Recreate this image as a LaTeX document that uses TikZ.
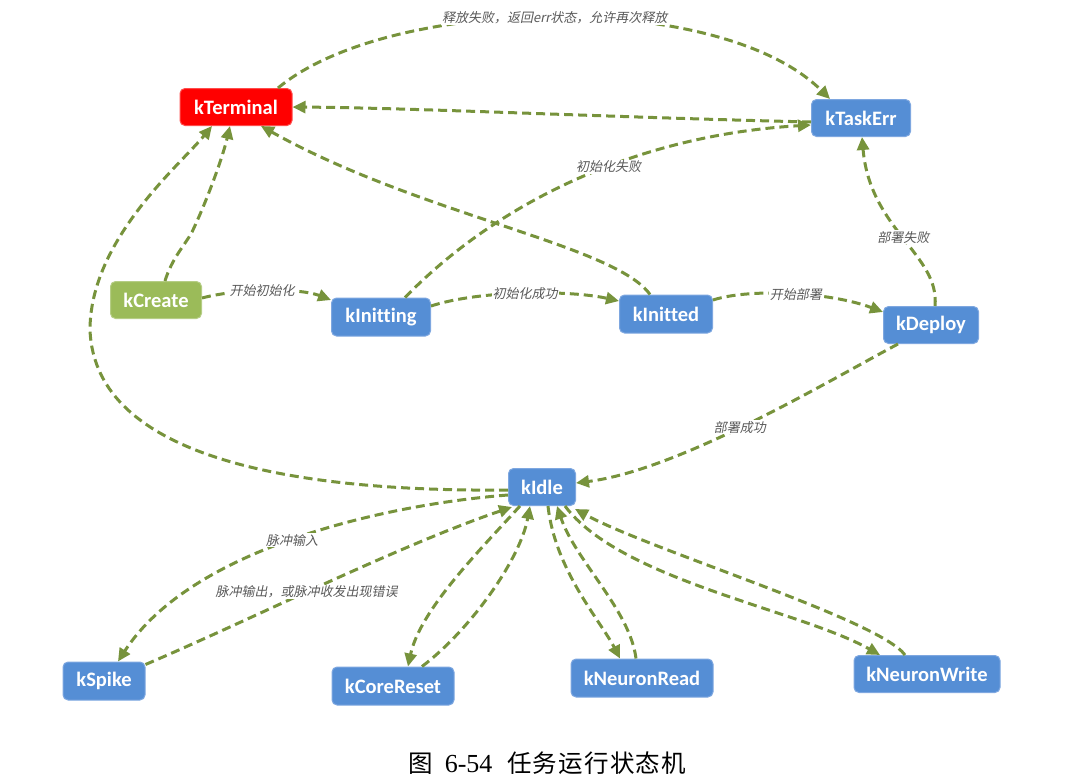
\documentclass[tikz,border=0pt]{standalone}
\usepackage{fontspec}
\setmainfont{Carlito}[Ligatures=NoCommon]
\newfontfamily\cjk{Noto Sans CJK SC}
\newfontfamily\cjkcap[LetterSpace=5]{Noto Sans CJK SC}
\newfontfamily\cjklab[FakeSlant=0.2]{Noto Sans CJK SC}
\newfontfamily\capserif{Liberation Serif}
\usetikzlibrary{arrows.meta}
\definecolor{nblue}{HTML}{558ED5}
\definecolor{nblueb}{HTML}{7EA7E0}
\definecolor{nred}{HTML}{FF0000}
\definecolor{ngreen}{HTML}{9BBB59}
\definecolor{ngreenb}{HTML}{B5CD85}
\definecolor{edgec}{HTML}{77933C}
\definecolor{labc}{HTML}{595959}
\begin{document}
\begin{tikzpicture}[x=1pt,y=-1pt,
  state/.style={rectangle,rounded corners=5pt,fill=nblue,draw=nblueb,line width=1pt,
    text=white,font=\bfseries\fontsize{20.5}{20.5}\selectfont,inner sep=0pt},
  redstate/.style={state,fill=nred,draw=nred!70!white},
  greenstate/.style={state,fill=ngreen,draw=ngreenb},
  trans/.style={draw=edgec,line width=3pt,dash pattern=on 9pt off 5pt,
    -{Triangle[length=13pt,width=12pt]}},
  lab/.style={fill=white,text=labc,font=\cjklab\fontsize{13}{14}\selectfont,inner sep=1pt}
]
\useasboundingbox (0,0) rectangle (1088,779);
% nodes
\node[redstate,minimum width=112pt,minimum height=37pt] (term) at (236,107) {kTerminal};
\node[state,minimum width=99pt,minimum height=37pt] (err) at (861,118) {kTaskErr};
\node[greenstate,minimum width=91pt,minimum height=37pt] (create) at (156,300) {kCreate};
\node[state,minimum width=99pt,minimum height=38pt] (initting) at (381,317) {kInitting};
\node[state,minimum width=93pt,minimum height=38pt] (initted) at (666,314) {kInitted};
\node[state,minimum width=95pt,minimum height=37pt] (deploy) at (931,325) {kDeploy};
\node[state,minimum width=67pt,minimum height=37pt] (idle) at (542,487) {kIdle};
\node[state,minimum width=82pt,minimum height=38pt] (spike) at (104,681) {kSpike};
\node[state,minimum width=122pt,minimum height=38pt] (reset) at (393,686) {kCoreReset};
\node[state,minimum width=142pt,minimum height=38pt] (nread) at (642,678) {kNeuronRead};
\node[state,minimum width=146pt,minimum height=37pt] (nwrite) at (927,674) {kNeuronWrite};

% top arc kTerminal -> kTaskErr
\draw[trans] ([xshift=42pt]term.north) .. controls (390,-5) and (720,-10) .. ([xshift=-31pt]err.north)
  node[lab,pos=0.5] {释放失败，返回err状态，允许再次释放};
% kTaskErr -> kTerminal
\draw[trans] ([yshift=-4pt]err.west) .. controls (600,117) and (420,108) .. (term.east);
% kInitting -> kTaskErr
\draw[trans] ([xshift=24pt]initting.north) .. controls (500,200) and (640,135) .. ([yshift=-7pt]err.west)
  node[lab,pos=0.57] {初始化失败};
% kDeploy -> kTaskErr
\draw[trans] ([xshift=4pt]deploy.north) .. controls (940,255) and (870,230) .. ([xshift=1pt]err.south)
  node[lab,pos=0.5] {部署失败};
% kCreate -> kTerminal
\draw[trans] ([xshift=9pt]create.north) .. controls (172,258) and (185,245) .. (192,232)
  .. controls (205,205) and (222,160) .. ([xshift=-6pt]term.south);
% kIdle -> kTerminal (long)
\draw[trans] ([yshift=-3pt]idle.west) .. controls (300,492) and (95,460) .. (90,330)
  .. controls (90,240) and (180,165) .. ([xshift=-24pt]term.south);
% kInitted -> kTerminal
\draw[trans] ([xshift=-16pt]initted.north) .. controls (615,245) and (420,215) .. ([xshift=25pt]term.south);
% horizontal chain
\draw[trans] ([yshift=2pt]create.east) .. controls (240,288) and (300,288) .. ([yshift=17pt]initting.west)
  node[lab,pos=0.45] {开始初始化};
\draw[trans] ([yshift=11pt]initting.east) .. controls (480,290) and (570,290) .. ([yshift=13pt]initted.west)
  node[lab,pos=0.5] {初始化成功};
\draw[trans] ([yshift=14pt]initted.east) .. controls (750,288) and (830,292) .. ([yshift=13pt]deploy.west)
  node[lab,pos=0.52] {开始部署};
% kDeploy -> kIdle
\draw[trans] ([xshift=-33pt]deploy.south) .. controls (830,380) and (680,470) .. ([yshift=4pt]idle.east)
  node[lab,pos=0.53] {部署成功};
% kIdle <-> kSpike
\draw[trans] ([yshift=-8pt]idle.west) .. controls (380,505) and (190,550) .. ([xshift=14pt]spike.north)
  node[lab,pos=0.5] {脉冲输入};
\draw[trans] ([yshift=-3pt]spike.north east) .. controls (250,620) and (400,545) .. ([xshift=-30pt,yshift=-1pt]idle.south)
  node[lab,pos=0.45] {脉冲输出，或脉冲收发出现错误};
% kIdle <-> kCoreReset
\draw[trans] ([xshift=-22pt]idle.south) .. controls (480,550) and (420,610) .. ([xshift=15pt]reset.north);
\draw[trans] ([xshift=29pt]reset.north) .. controls (470,630) and (520,560) .. ([xshift=-12pt]idle.south);
% kIdle <-> kNeuronRead
\draw[trans] ([xshift=6pt]idle.south) .. controls (555,570) and (600,620) .. ([xshift=-22pt]nread.north);
\draw[trans] ([xshift=-6pt]nread.north) .. controls (630,610) and (575,560) .. ([xshift=15pt]idle.south);
% kIdle <-> kNeuronWrite
\draw[trans] ([xshift=23pt]idle.south) .. controls (620,580) and (800,610) .. ([xshift=-47pt]nwrite.north);
\draw[trans] ([xshift=-22pt]nwrite.north) .. controls (880,620) and (650,550) .. ([xshift=-1pt,yshift=-3pt]idle.south east);
% caption
\node[inner sep=0pt,font=\fontsize{24.5}{25}\selectfont] (cap) at (547,763)
  {\cjk 图\hspace{0.5em}{\capserif\fontsize{26}{26}\selectfont 6-54}\hspace{0.6em}\cjkcap 任务运行状态机};
\end{tikzpicture}
\end{document}
